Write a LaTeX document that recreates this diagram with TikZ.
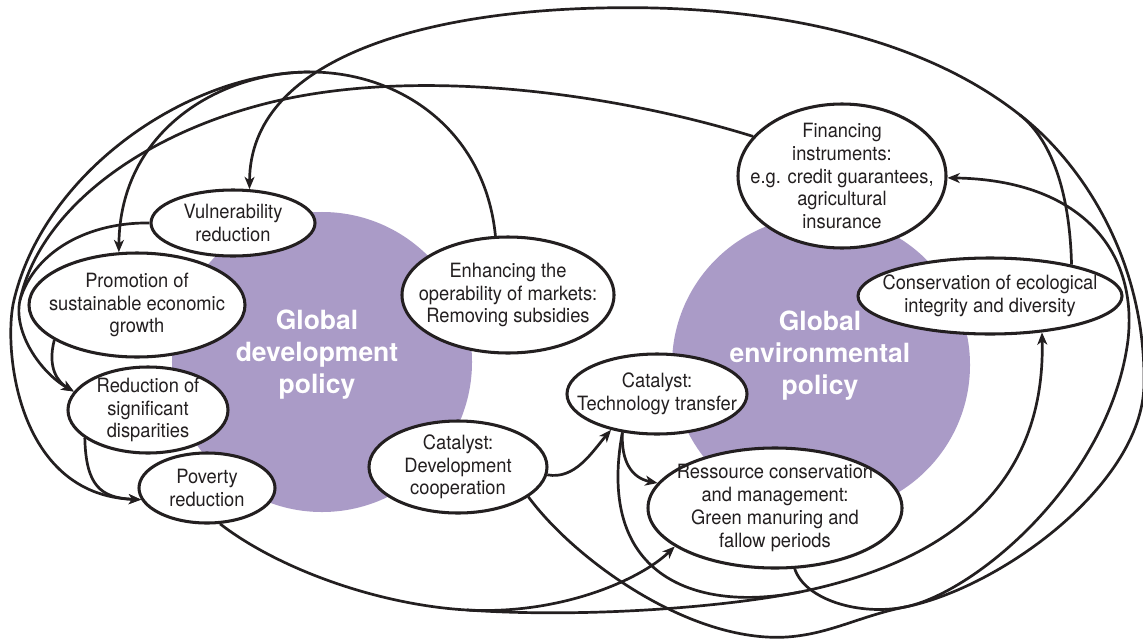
\documentclass[tikz,border=0pt]{standalone}
\usepackage{fontspec}
\setmainfont{TeX Gyre Heros}
\newfontfamily\lblfont{TeX Gyre Heros}[FakeStretch=0.93]
\usetikzlibrary{shapes.geometric,arrows.meta}
\definecolor{lila}{HTML}{AA9BC7}
\definecolor{ink}{HTML}{231F20}
\begin{document}
\begin{tikzpicture}[x=0.03cm,y=-0.03cm,
  bub/.style={ellipse, draw=ink, line width=2.6pt, fill=white, inner sep=0pt},
  txt/.style={align=center, font=\lblfont\fontsize{16.8pt}{19.4pt}\selectfont, text=ink, inner sep=0pt},
  big/.style={align=center, font=\fontsize{22.6pt}{27.3pt}\selectfont\bfseries, text=white, inner sep=0pt},
  disc/.style={circle, fill=lila, inner sep=0pt},
  link/.style={draw=ink, line width=2.3pt},
  arr/.style={link, -{Stealth[length=10.5pt,width=8.5pt,inset=3pt]}}]
\useasboundingbox (0,0) rectangle (1143,639);
\fill[white] (0,0) rectangle (1143,639);

% policy discs
\node[disc, minimum size=9cm] (gdp) at (322,362) {};
\node[disc, minimum size=8.94cm] (gep) at (821,365) {};
\node[big] (gdpt) at (317,355) {Global\\development\\policy};
\node[big] (gept) at (820,356) {Global\\environmental\\policy};

% bubbles
\node[bub, minimum width=4.92cm, minimum height=1.98cm, label={[txt]center:{Vulnerability\\reduction}}] (vul) at (233,223) {};
\node[bub, minimum width=6.48cm, minimum height=3.12cm, label={[txt]center:{Promotion of\\sustainable economic\\growth}}] (pro) at (137,305) {};
\node[bub, minimum width=4.8cm, minimum height=2.58cm, label={[txt]center:{Reduction of\\significant\\disparities}}] (red) at (148,410) {};
\node[bub, minimum width=4.08cm, minimum height=2.1cm, label={[txt]center:{Poverty\\reduction}}] (pov) at (207,488) {};
\node[bub, minimum width=6.36cm, minimum height=3.48cm, label={[txt]center:{Enhancing the\\operability of markets:\\Removing subsidies}}] (enh) at (508,295) {};
\node[bub, minimum width=5.34cm, minimum height=2.76cm, label={[txt]center:{Catalyst:\\Development\\cooperation}}] (dev) at (458,467) {};
\node[bub, minimum width=5.4cm, minimum height=2.4cm, label={[txt]center:{Catalyst:\\Technology transfer}}] (tec) at (657,394) {};
\node[bub, minimum width=7.62cm, minimum height=3.6cm, label={[txt]center:{Ressource conservation\\and management:\\Green manuring and\\fallow periods}}] (res) at (775,508) {};
\node[bub, minimum width=6.24cm, minimum height=4.32cm, label={[txt]center:{Financing\\instruments:\\e.g. credit guarantees,\\agricultural\\insurance}}] (fin) at (842,176) {};
\node[bub, minimum width=7.92cm, minimum height=2.28cm, label={[txt]center:{Conservation of ecological\\integrity and diversity}}] (con) at (990,296) {};

% merge / fork points
\coordinate (m1) at (310,72);
\coordinate (mL) at (20,300);
\coordinate (ms) at (1020,115);
\coordinate (mR) at (905,607);
\coordinate (mP) at (467,610);
\coordinate (mT) at (800,592);

% Enhancing markets -> promotion / poverty
\draw[link] (enh.102) .. controls (485,130) and (400,72) .. (m1);
\draw[arr] (m1) .. controls (220,72) and (120,130) .. (pro.109);
\draw[arr] (m1) .. controls (190,72) and (45,170) .. (14,300) .. controls (3,345) and (15,495) .. (pov.190);

% Financing -> reduction of disparities (vulnerability joins)
\draw[arr] (fin.156) .. controls (620,95) and (420,65) .. (268,103) .. controls (140,135) and (40,210) .. (mL) .. controls (13,332) and (40,372) .. (red.166);
\draw[link] (vul.180) .. controls (90,222) and (35,250) .. (mL);

% left cascade
\draw[arr] (pro.203) .. controls (47,368) and (58,382) .. (red.166);
\draw[arr] (red.204) .. controls (86,485) and (100,498) .. (pov.190);

% top arc -> vulnerability
\draw[arr] (con.21) .. controls (1070,200) and (1055,143) .. (ms) .. controls (900,20) and (720,5) .. (600,8) .. controls (420,12) and (250,60) .. (vul.64);
\draw[link] (mR) .. controls (1000,588) and (1142,485) .. (1144,385) .. controls (1146,260) and (1082,163) .. (ms);

% feeders of the right-hand fork
\draw[link] (res.-72) .. controls (805,600) and (860,616) .. (mR);
\draw[link] (dev.-23) .. controls (575,560) and (690,643) .. (787,637) .. controls (830,634) and (860,616) .. (mR);
\draw[arr] (mR) .. controls (975,593) and (1110,480) .. (1128,340) .. controls (1138,250) and (1080,180) .. (fin.-1);

% poverty -> ressource / conservation
\draw[link] (pov.-70) .. controls (280,570) and (380,605) .. (mP);
\draw[arr] (mP) .. controls (560,615) and (640,580) .. (res.201);
\draw[arr] (mP) .. controls (580,618) and (720,608) .. (mT) .. controls (980,555) and (1045,460) .. (con.-35);

% technology transfer
\draw[link] (tec.-132) .. controls (595,580) and (700,612) .. (mT);
\draw[arr] (tec.-132) .. controls (621,462) and (632,478) .. (res.168);
\draw[arr] (dev.-5) .. controls (575,480) and (592,452) .. (tec.-142);
\end{tikzpicture}
\end{document}
